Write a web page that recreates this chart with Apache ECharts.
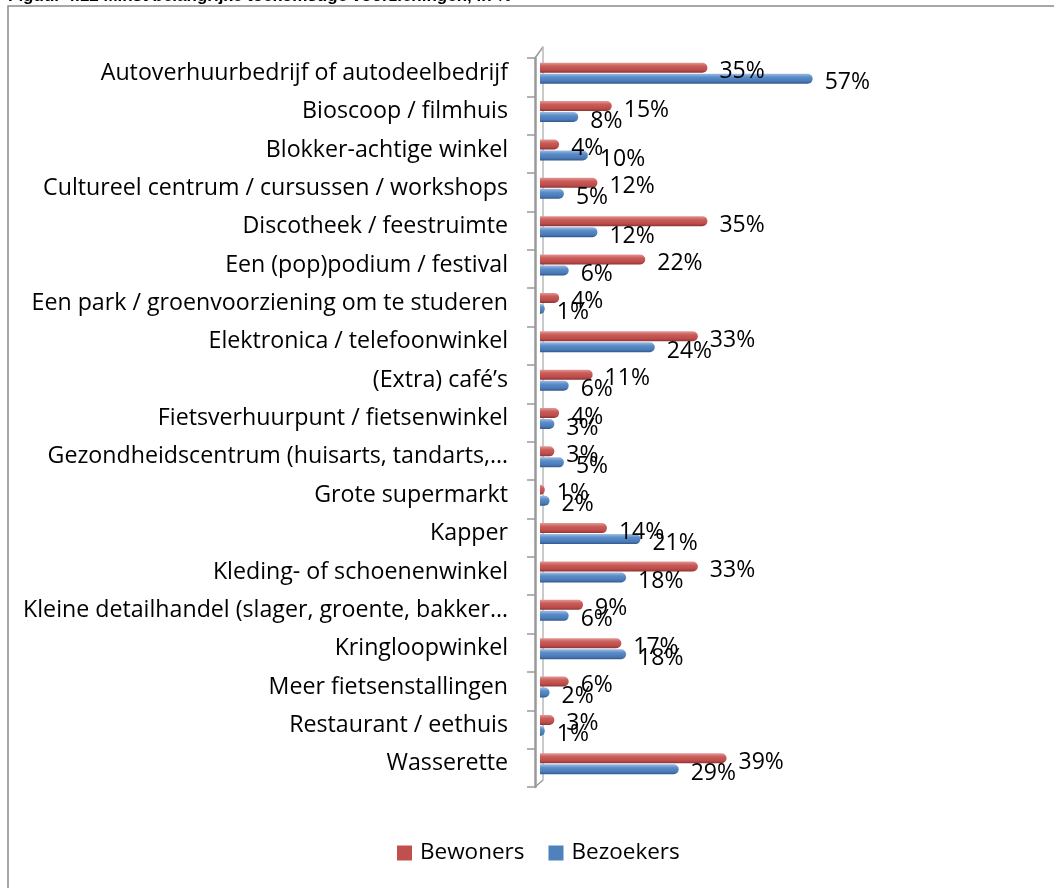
<!DOCTYPE html>
<html>
<head>
<meta charset="utf-8">
<script src="https://cdn.jsdelivr.net/npm/echarts@6/dist/echarts.min.js"></script>
<style>html,body{margin:0;padding:0;background:#fff;}#c{width:1054px;height:888px;}</style>
</head>
<body>
<div id="c"></div>
<script>
const titleText = 'Figuur 4.12 Minst belangrijke toekomstige voorzieningen, in %';
const categories = [
  'Autoverhuurbedrijf of autodeelbedrijf',
  'Bioscoop / filmhuis',
  'Blokker-achtige winkel',
  'Cultureel centrum / cursussen / workshops',
  'Discotheek / feestruimte',
  'Een (pop)podium / festival',
  'Een park / groenvoorziening om te studeren',
  'Elektronica / telefoonwinkel',
  '(Extra) café’s',
  'Fietsverhuurpunt / fietsenwinkel',
  'Gezondheidscentrum (huisarts, tandarts,…',
  'Grote supermarkt',
  'Kapper',
  'Kleding- of schoenenwinkel',
  'Kleine detailhandel (slager, groente, bakker…',
  'Kringloopwinkel',
  'Meer fietsenstallingen',
  'Restaurant / eethuis',
  'Wasserette'
];
const bewoners  = [35, 15, 4, 12, 35, 22, 4, 33, 11, 4, 3, 1, 14, 33, 9, 17, 6, 3, 39];
const bezoekers = [57, 8, 10, 5, 12, 6, 1, 24, 6, 3, 5, 2, 21, 18, 6, 18, 2, 1, 29];
const seriesNames = ['Bewoners', 'Bezoekers'];
const seriesColors = ['#c0504d', '#4f81bd'];

const FONT = 'Open Sans';
const chart = echarts.init(document.getElementById('c'), null, {renderer: 'canvas'});

function grad(c0, c1, c2, c3) {
  return new echarts.graphic.LinearGradient(0, 0, 0, 1, [
    {offset: 0, color: c0}, {offset: 0.35, color: c1}, {offset: 0.75, color: c2}, {offset: 1, color: c3}
  ]);
}
const redFill = grad('#e39895', '#c95c59', '#bd4c49', '#8a3432');
const blueFill = grad('#9fbce3', '#5a8cc8', '#4a7bb8', '#32588a');

const labelCommon = {
  show: true, position: 'right', distance: 12, offset: [0, 4],
  formatter: '{c}%', fontFamily: FONT, fontSize: 23, color: '#000'
};

chart.setOption({
  animation: false,
  backgroundColor: '#fff',
  color: seriesColors,
  grid: [
    {left: 540, top: 54, height: 729, right: 227},
    {left: 535, top: 58, height: 729, width: 10},
    {left: 543, top: 47, height: 733, width: 10}
  ],
  xAxis: [
    {gridIndex: 0, type: 'value', min: 0, max: 60, show: false},
    {gridIndex: 1, type: 'value', min: 0, max: 1, show: false},
    {gridIndex: 2, type: 'value', min: 0, max: 1, show: false}
  ],
  yAxis: [
    {gridIndex: 0, type: 'category', inverse: true, data: categories,
     axisLine: {show: false}, axisTick: {show: false},
     axisLabel: {margin: 32, fontFamily: FONT, fontSize: 23.2, color: '#000', padding: [0, 0, 3, 0]}},
    {gridIndex: 1, type: 'category', inverse: true, data: categories,
     axisLine: {show: true, lineStyle: {color: '#9a9a9a', width: 2.5}},
     axisTick: {show: true, length: 8, lineStyle: {color: '#9a9a9a', width: 1.5}},
     axisLabel: {show: false}},
    {gridIndex: 2, type: 'category', inverse: true, data: categories,
     axisLine: {show: true, lineStyle: {color: '#b8b8b8', width: 1.5}},
     axisTick: {show: false}, axisLabel: {show: false}}
  ],
  legend: {
    data: [
      {name: seriesNames[0], itemStyle: {color: seriesColors[0]}},
      {name: seriesNames[1], itemStyle: {color: seriesColors[1]}}
    ],
    left: 397, top: 840, padding: 0,
    icon: 'rect', itemWidth: 15, itemHeight: 15, itemGap: 24,
    textStyle: {fontFamily: FONT, fontSize: 22.5, color: '#000', lineHeight: 26, padding: [0, 0, 0, 3]}
  },
  series: [
    {name: seriesNames[0], type: 'bar', data: bewoners, xAxisIndex: 0, yAxisIndex: 0,
     barWidth: 10, barGap: '10%',
     itemStyle: {color: redFill, borderRadius: [0, 5, 5, 0]},
     label: labelCommon},
    {name: seriesNames[1], type: 'bar', data: bezoekers, xAxisIndex: 0, yAxisIndex: 0,
     barWidth: 10, barGap: '10%',
     itemStyle: {color: blueFill, borderRadius: [0, 5, 5, 0]},
     label: labelCommon}
  ],
  graphic: [
    {type: 'rect', shape: {x: 8, y: 6, width: 1200, height: 1000}, style: {fill: 'none', stroke: '#8a8a8a', lineWidth: 1.5}, z: 0},
    {type: 'text', x: 8, y: 5, style: {text: titleText, font: 'bold 17px "Liberation Sans"', fill: '#000', textAlign: 'left', textVerticalAlign: 'bottom'}},
    {type: 'line', shape: {x1: 535, y1: 58, x2: 543, y2: 47}, style: {stroke: '#9a9a9a', lineWidth: 1.5}},
    {type: 'line', shape: {x1: 535, y1: 787, x2: 543, y2: 780}, style: {stroke: '#9a9a9a', lineWidth: 1.5}}
  ]
});
</script>
</body>
</html>
